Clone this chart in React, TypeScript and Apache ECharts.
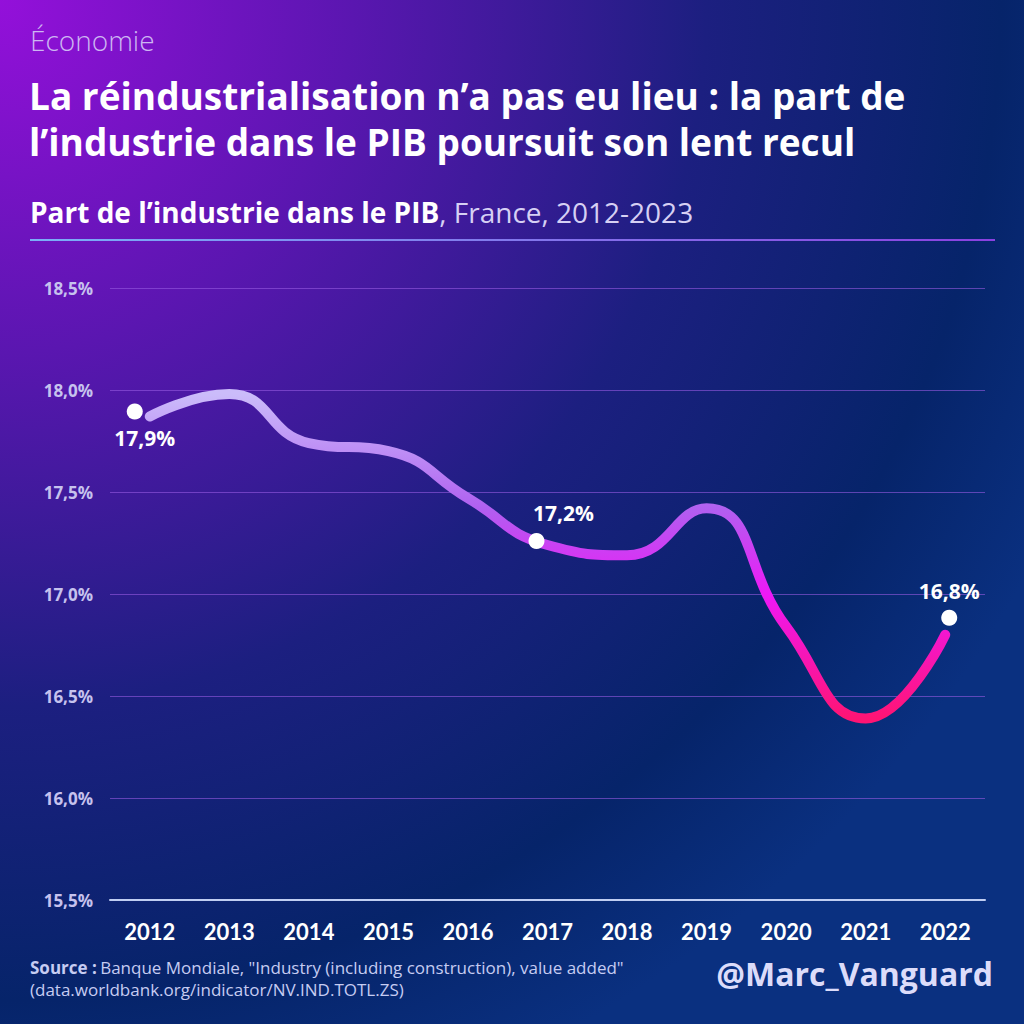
import React, { useEffect, useRef } from "react";
import * as echarts from "echarts";

const years = ["2012", "2013", "2014", "2015", "2016", "2017", "2018", "2019", "2020", "2021", "2022"];
const shareValues = [17.87, 17.98, 17.74, 17.7, 17.47, 17.24, 17.19, 17.42, 16.84, 16.39, 16.8];
const highlightLabels = ["17,9%", null, null, null, null, "17,2%", null, null, null, null, "16,8%"];
const yTicks = { min: 15.5, max: 18.5, interval: 0.5 };
const titleLines = [
  "La réindustrialisation n’a pas eu lieu : la part de",
  "l’industrie dans le PIB poursuit son lent recul",
];

const FONT = "'Open Sans', Lato, sans-serif";
const FONT2 = "Lato, 'Open Sans', sans-serif";

export default function App() {
  const ref = useRef<HTMLDivElement>(null);
  useEffect(() => {
    if (!ref.current) return;
    const chart = echarts.init(ref.current, null, { renderer: "svg" });

    const offsets: Record<number, number[]> = { 0: [-15, -5], 5: [-11, -4], 10: [4, -17] };
    const labelPos: Record<number, any> = {
      0: { position: "bottom", distance: 8, offset: [10, 0] },
      5: { position: "top", distance: 10, offset: [27, 0] },
      10: { position: "top", distance: 8, offset: [0, 0] },
    };
    const dots = shareValues.map((v, i) => {
      const lab = highlightLabels[i];
      if (!lab) return { value: v, symbolSize: 0, label: { show: false } };
      return {
        value: v,
        symbolOffset: offsets[i],
        label: { show: true, formatter: lab, ...labelPos[i] },
      };
    });

    chart.setOption({
      animation: false,
      backgroundColor: {
        type: "radial",
        x: 0,
        y: 0,
        r: 1.15,
        colorStops: [
          { offset: 0, color: "#9410da" },
          { offset: 0.3, color: "#5a16b0" },
          { offset: 0.6, color: "#1c1f80" },
          { offset: 0.85, color: "#06246a" },
          { offset: 1, color: "#0a3080" },
        ],
      },
      grid: { left: 110, right: 39, top: 288, bottom: 124 },
      xAxis: {
        type: "category",
        data: years,
        boundaryGap: true,
        axisLine: { show: true, lineStyle: { color: "#c0cef2", width: 2 } },
        axisTick: { show: false },
        axisLabel: { color: "#ffffff", fontSize: 22, fontWeight: "bold", fontFamily: FONT2, margin: 20 },
        splitLine: { show: false },
      },
      yAxis: {
        type: "value",
        min: yTicks.min,
        max: yTicks.max,
        interval: yTicks.interval,
        axisLine: { show: false },
        axisTick: { show: false },
        axisLabel: {
          color: "#c6c2ee",
          fontSize: 17,
          fontWeight: "bold",
          fontFamily: FONT,
          margin: 17,
          formatter: (v: number) => v.toFixed(1).replace(".", ",") + "%",
        },
        splitLine: { lineStyle: { color: "rgba(150,90,225,0.6)", width: 1 } },
      },
      series: [
        {
          type: "line",
          data: shareValues,
          smooth: 0.5,
          showSymbol: false,
          lineStyle: {
            width: 10,
            cap: "round",
            join: "round",
            color: {
              type: "linear",
              x: 0,
              y: 0,
              x2: 0,
              y2: 1,
              colorStops: [
                { offset: 0, color: "#cbbcfa" },
                { offset: 0.35, color: "#b060f0" },
                { offset: 0.62, color: "#ee18f6" },
                { offset: 1, color: "#ff1474" },
              ],
            },
          },
          z: 2,
        },
        {
          type: "scatter",
          data: dots,
          symbol: "circle",
          symbolSize: 16,
          itemStyle: { color: "#ffffff", opacity: 1 },
          label: { color: "#ffffff", fontSize: 21, fontWeight: "bold", fontFamily: FONT },
          emphasis: { disabled: true },
          z: 3,
        },
      ],
      graphic: [
        {
          type: "text",
          left: 30,
          top: 26,
          style: { text: "Économie", fill: "#cdb6f2", fontSize: 28, fontFamily: FONT, fontWeight: 300 },
        },
        {
          type: "text",
          left: 29,
          top: 77,
          style: { text: titleLines[0], fill: "#ffffff", fontSize: 37, fontWeight: "bold", fontFamily: FONT },
        },
        {
          type: "text",
          left: 29,
          top: 123,
          style: { text: titleLines[1], fill: "#ffffff", fontSize: 37, fontWeight: "bold", fontFamily: FONT },
        },
        {
          type: "text",
          left: 30,
          top: 198,
          style: {
            text: "{b|Part de l’industrie dans le PIB}{n|, France, 2012-2023}",
            rich: {
              b: { fill: "#ffffff", fontSize: 28, fontWeight: "bold", fontFamily: FONT },
              n: { fill: "#d6d0f4", fontSize: 28, fontWeight: "normal", fontFamily: FONT },
            },
          },
        },
        {
          type: "rect",
          shape: { x: 30, y: 239, width: 965, height: 2 },
          style: {
            fill: {
              type: "linear",
              x: 0,
              y: 0,
              x2: 1,
              y2: 0,
              colorStops: [
                { offset: 0, color: "#7ab0f8" },
                { offset: 1, color: "#8a40e0" },
              ],
            },
          },
        },
        {
          type: "text",
          left: 30,
          top: 959,
          style: {
            text: "{b|Source :} {n|Banque Mondiale, \"Industry (including construction), value added\"}",
            rich: {
              b: { fill: "#c6ccf2", fontSize: 17, fontWeight: "bold", fontFamily: FONT },
              n: { fill: "#c6ccf2", fontSize: 17, fontFamily: FONT },
            },
          },
        },
        {
          type: "text",
          left: 30,
          top: 981,
          style: {
            text: "(data.worldbank.org/indicator/NV.IND.TOTL.ZS)",
            fill: "#c6ccf2",
            fontSize: 17,
            fontFamily: FONT,
          },
        },
        {
          type: "text",
          right: 31,
          top: 957,
          style: { text: "@Marc_Vanguard", fill: "#dcdcfa", fontSize: 32, fontWeight: "bold", fontFamily: FONT },
        },
      ],
    });
    return () => chart.dispose();
  }, []);
  return <div ref={ref} style={{ position: "absolute", left: 0, top: 0, width: 1024, height: 1024 }} />;
}
